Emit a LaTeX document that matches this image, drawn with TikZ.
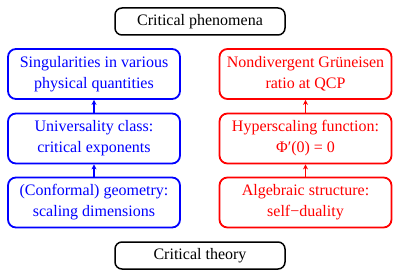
\documentclass[tikz,border=0pt]{standalone}
\usepackage{fontspec}
\setmainfont{Liberation Serif}
\usetikzlibrary{arrows.meta}
\tikzset{
  frame/.style={draw, line width=1.5pt, rounded corners=7pt, minimum width=170pt, minimum height=27pt, inner sep=0pt},
  cell/.style={draw=#1, text=#1, line width=1.8pt, rounded corners=8pt, minimum width=172pt, minimum height=50pt, align=center, inner sep=0pt},
  link/.style={->, draw=#1, line width=1.3pt}
}
\begin{document}
\begin{tikzpicture}[x=1pt, y=-1pt, font=\fontsize{16}{21}\selectfont, line join=round, >={Stealth[length=5pt,width=5pt]}]
			\useasboundingbox (0,0) rectangle (399,278);
			% headline and foot
			\node[frame] (phen) at (200,21.5) {Critical phenomena};
			\node[frame] (theo) at (200,255.5) {Critical theory};
			% left column
			\node[cell=blue] (sing) at (94,74) {Singularities in various\\physical quantities};
			\node[cell=blue] (univ) at (94,138.5) {Universality class:\\critical exponents};
			\node[cell=blue] (geom) at (94,202.5) {(Conformal) geometry:\\scaling dimensions};
			% right column
			\node[cell=red] (grun) at (305.5,74) {Nondivergent Grüneisen\\ratio at QCP};
			\node[cell=red] (hyper) at (305.5,138.5) {Hyperscaling function:\\Φ′(0) = 0};
			\node[cell=red] (alg) at (305.5,202.5) {Algebraic structure:\\self−duality};
			\draw[link=blue] (univ) -- (sing);
			\draw[link=blue] (geom) -- (univ);
			\draw[link=red] (hyper) -- (grun);
			\draw[link=red] (alg) -- (hyper);
		\end{tikzpicture}
\end{document}
